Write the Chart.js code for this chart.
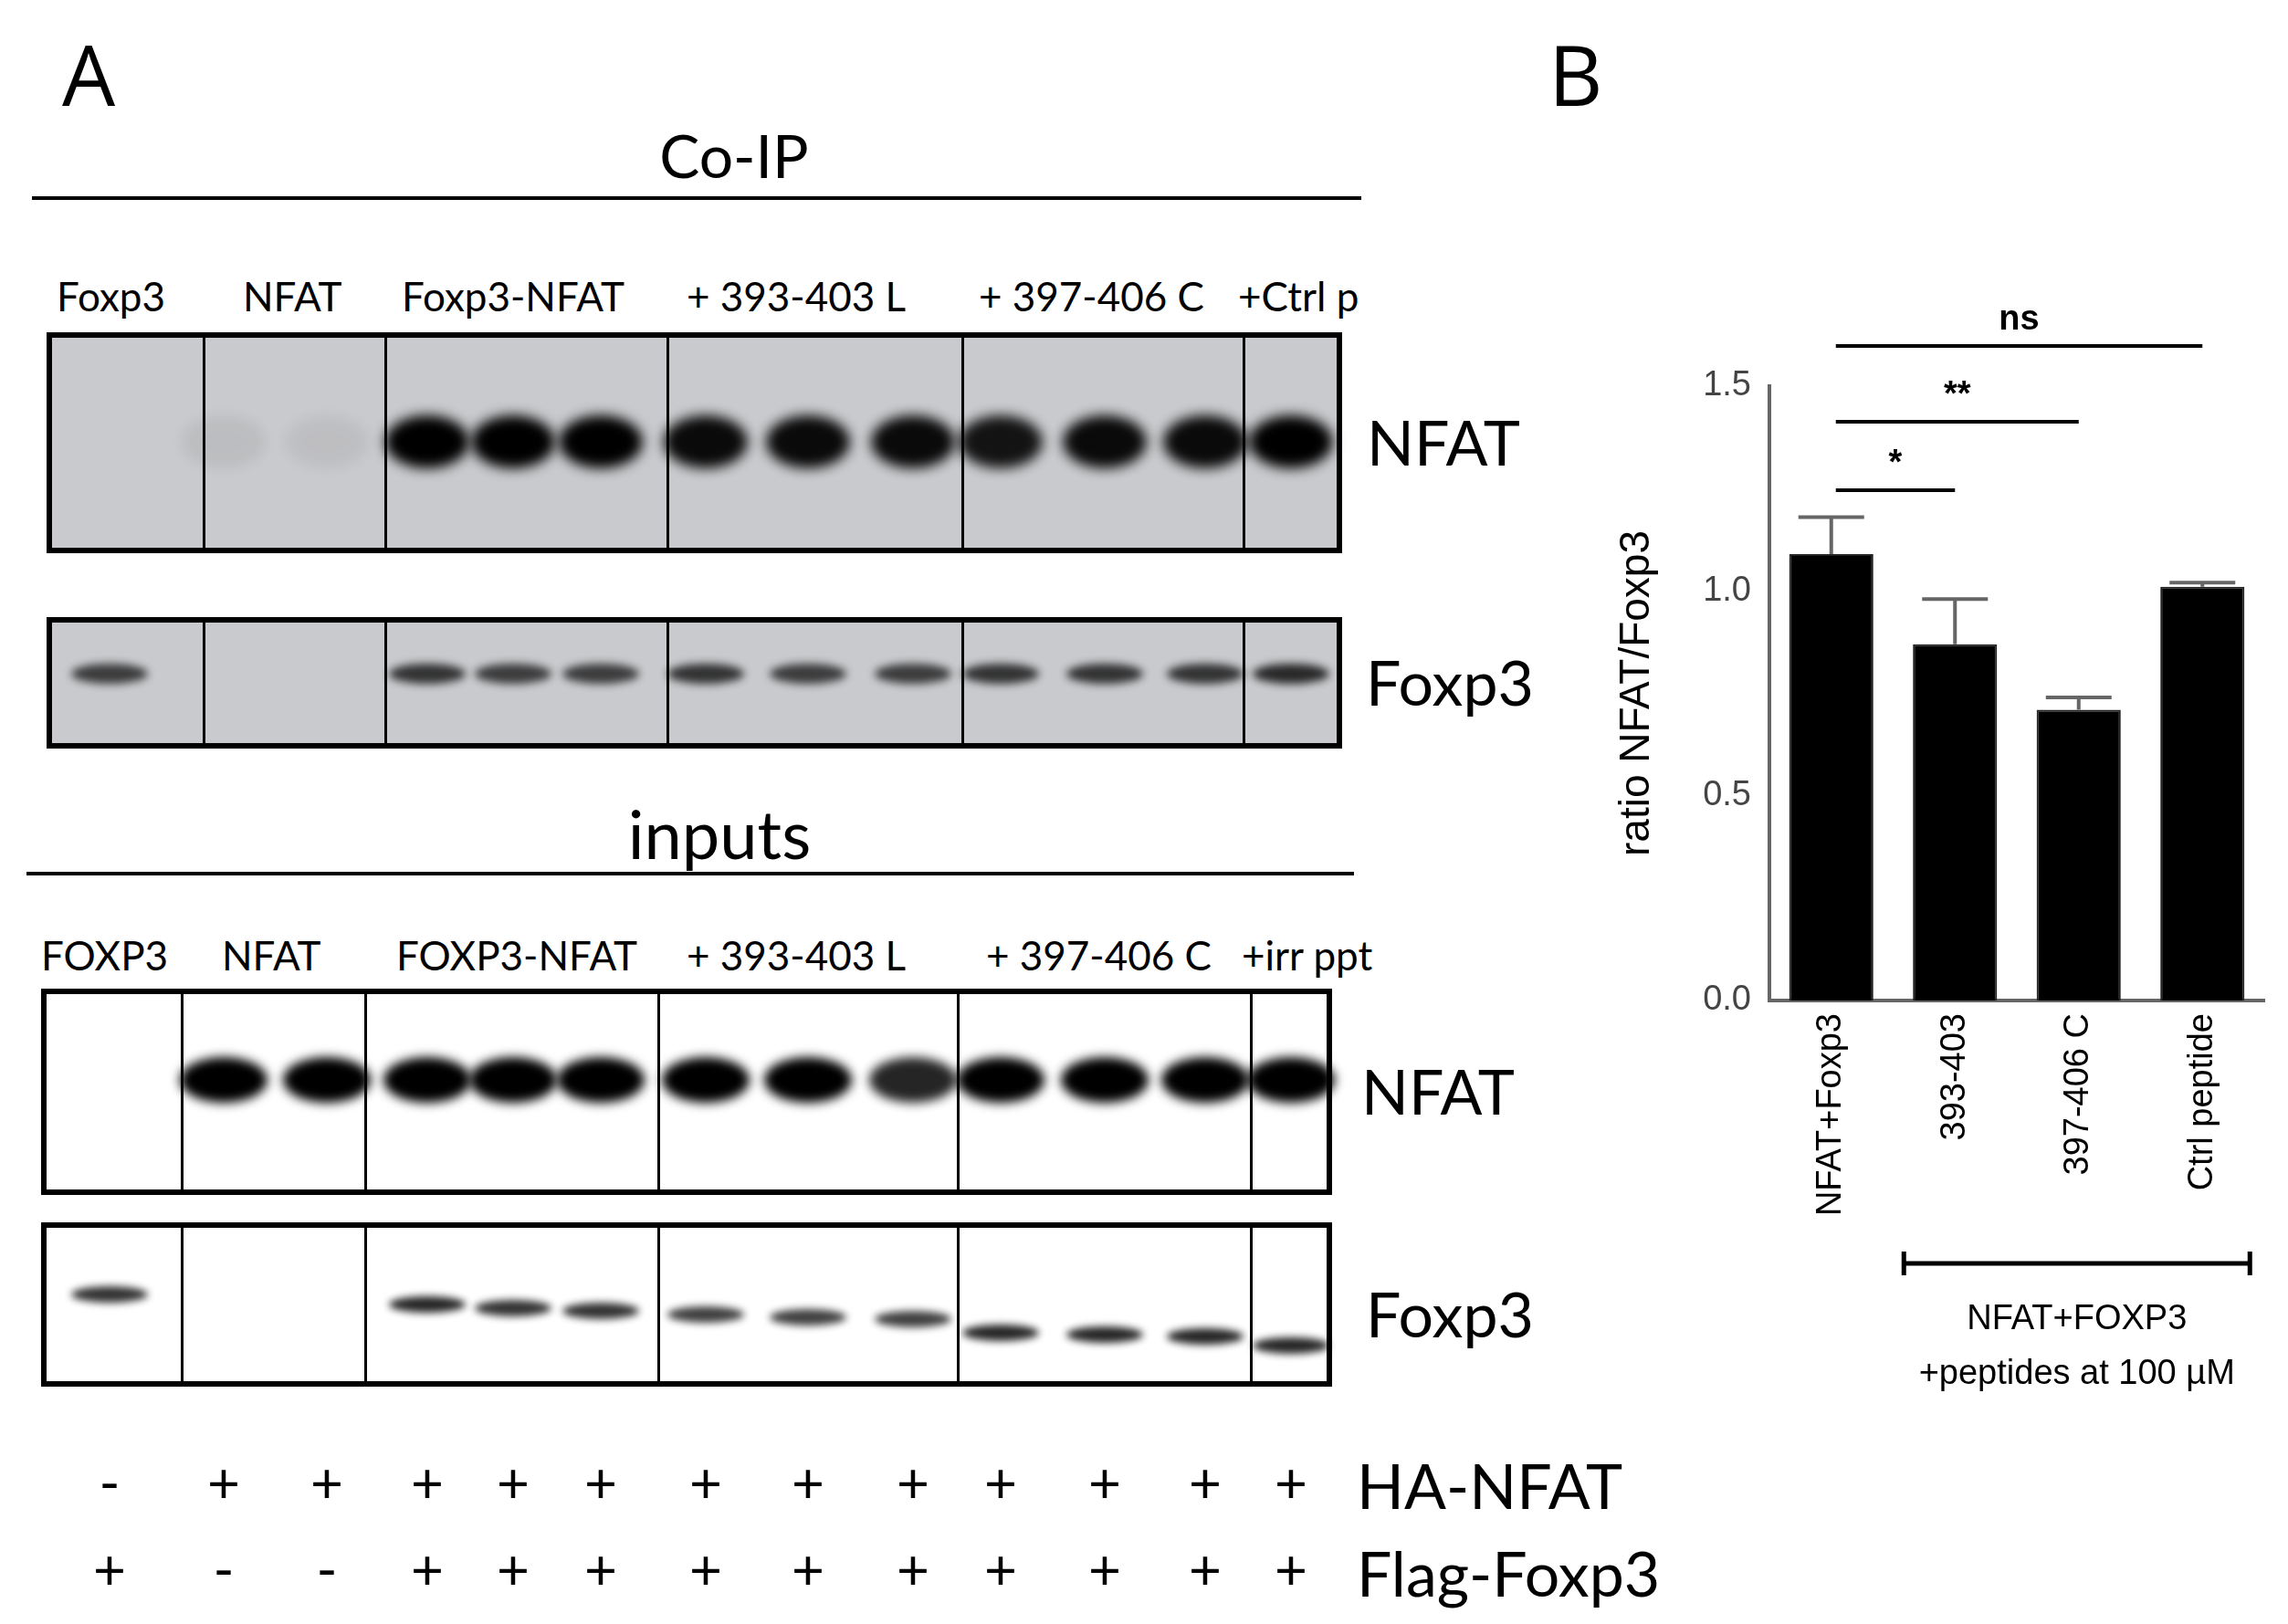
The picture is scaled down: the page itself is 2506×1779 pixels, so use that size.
<!DOCTYPE html>
<html>
<head>
<meta charset="utf-8">
<script src="https://cdn.jsdelivr.net/npm/chart.js@4"></script>
<style>
  body { margin:0; background:#fff; width:2506px; height:1779px; position:relative; overflow:hidden; font-family:Lato, "Open Sans", sans-serif; }
  .abs { position:absolute; }
  .txt { position:absolute; white-space:nowrap; color:#000; }
  .blot { position:absolute; box-sizing:border-box; border:6px solid #000; overflow:hidden; }
  .div { position:absolute; top:0; bottom:0; width:3px; background:#000; }
  .band { position:absolute; border-radius:50%; background:#000; }
  #chartbox { position:absolute; left:1700px; top:300px; width:806px; height:1320px; }
</style>
</head>
<body>

<div class="txt" style="left:68px;top:18px;font-size:92px;font-family:'Open Sans'">A</div>
<div class="txt" style="left:1696px;top:18px;font-size:92px;font-family:'Open Sans'">B</div>

<div id="panelA"></div>
<div id="chartbox"><canvas id="bar-graph-canvas"></canvas></div>

<script>
// ---- panel B data ----
const categories = ["NFAT+Foxp3", "393-403", "397-406 C", "Ctrl peptide"]
const ratio_values = [1.09, 0.87, 0.71, 1.01]
const ratio_errors = [0.09, 0.11, 0.03, 0.01]
const y_ticks = [0.0, 0.5, 1.0, 1.5]
// significance bars: [from index, to index, level, label]
const sig_bars = [[0, 1, 1.246, "*"], [0, 2, 1.413, "**"], [0, 3, 1.598, "ns"]]

// ---- panel A (blots) ----
const lane_x = [120, 245, 358, 468, 562, 658, 773, 885, 1000, 1096, 1210, 1320, 1414]
const plus_nfat = ["-", "+", "+", "+", "+", "+", "+", "+", "+", "+", "+", "+", "+"]
const plus_foxp3 = ["+", "-", "-", "+", "+", "+", "+", "+", "+", "+", "+", "+", "+"]
const coip_nfat = [0, 0.06, 0.05, 1, 1, 1, 0.95, 0.95, 0.95, 0.9, 0.95, 0.95, 1]
const coip_foxp3 = [0.7, 0, 0, 0.75, 0.7, 0.7, 0.75, 0.7, 0.7, 0.75, 0.75, 0.75, 0.8]
const input_nfat = [0, 1, 1, 1, 1, 1, 1, 1, 0.85, 1, 1, 1, 1]
const input_foxp3 = [0.8, 0, 0, 0.85, 0.8, 0.8, 0.75, 0.75, 0.75, 0.85, 0.85, 0.85, 0.85]
const input_foxp3_y = [1418, 0, 0, 1429, 1433, 1436, 1440, 1443, 1445, 1460, 1462, 1464, 1474]

const coip_lanes_labels = [["Foxp3", 62], ["NFAT", 266], ["Foxp3-NFAT", 440], ["+ 393-403 L", 752], ["+ 397-406 C", 1072], ["+Ctrl p", 1356]]
const input_lanes_labels = [["FOXP3", 45], ["NFAT", 243], ["FOXP3-NFAT", 434], ["+ 393-403 L", 752], ["+ 397-406 C", 1080], ["+irr ppt", 1360]]

const panelA = document.getElementById("panelA")

function addEl(cls, style, text){
    const el = document.createElement("div")
    el.className = cls
    el.setAttribute("style", style)
    if (text !== undefined) el.textContent = text
    panelA.appendChild(el)
    return el
}

function addBlot(left, top, width, height, bg, dividers){
    const b = addEl("blot", `left:${left}px;top:${top}px;width:${width}px;height:${height}px;background:${bg}`)
    dividers.forEach(function(x){
        const d = document.createElement("div")
        d.className = "div"
        d.setAttribute("style", `left:${x - left}px`)
        b.appendChild(d)
    })
    return b
}

function addBands(intensities, cy, w, h, blur, ys){
    intensities.forEach(function(v, i){
        if (v <= 0) return
        const y = ys ? ys[i] : cy
        addEl("band", `left:${lane_x[i] - w/2}px;top:${y - h/2}px;width:${w}px;height:${h}px;opacity:${v};filter:blur(${blur}px)`)
    })
}

// Co-IP header
addEl("txt", "left:0;width:1608px;text-align:center;top:130px;font-size:66px", "Co-IP")
addEl("abs", "left:35px;top:215px;width:1456px;height:4px;background:#000")
coip_lanes_labels.forEach(function(l){ addEl("txt", `left:${l[1]}px;top:298px;font-size:44px`, l[0]) })

addBlot(51, 364, 1419, 242, "#c9cacd", [216, 415, 724, 1047, 1355])
addBands(coip_nfat, 484, 92, 58, 7)
addEl("txt", "left:1497px;top:443px;font-size:68px", "NFAT")

addBlot(51, 676, 1419, 144, "#c9cacd", [216, 415, 724, 1047, 1355])
addBands(coip_foxp3, 738, 84, 22, 5)
addEl("txt", "left:1496px;top:706px;font-size:68px", "Foxp3")

// inputs
addEl("txt", "left:0;width:1576px;text-align:center;top:868px;font-size:74px", "inputs")
addEl("abs", "left:29px;top:955px;width:1454px;height:4px;background:#000")
input_lanes_labels.forEach(function(l){ addEl("txt", `left:${l[1]}px;top:1020px;font-size:44px`, l[0]) })

addBlot(45, 1083, 1414, 226, "#fff", [192, 393, 714, 1042, 1363])
addBands(input_nfat, 1183, 96, 50, 6)
addEl("txt", "left:1491px;top:1154px;font-size:68px", "NFAT")

addBlot(45, 1339, 1414, 180, "#fff", [192, 393, 714, 1042, 1363])
addBands(input_foxp3, 0, 84, 18, 4, input_foxp3_y)
addEl("txt", "left:1496px;top:1398px;font-size:68px", "Foxp3")

plus_nfat.forEach(function(s, i){ addEl("txt", `left:${lane_x[i] - 20}px;width:40px;text-align:center;top:1585px;font-size:62px`, s) })
plus_foxp3.forEach(function(s, i){ addEl("txt", `left:${lane_x[i] - 20}px;width:40px;text-align:center;top:1680px;font-size:62px`, s) })
addEl("txt", "left:1486px;top:1586px;font-size:68px", "HA-NFAT")
addEl("txt", "left:1486px;top:1682px;font-size:68px", "Flag-Foxp3")

// ---- panel B chart ----
const annotations = {
    id: "annotations",
    afterDatasetsDraw(chart){
        const ctx = chart.ctx
        const x = chart.scales.x
        const y = chart.scales.y
        ctx.save()
        ctx.fillStyle = "#000"
        // error bars
        ctx.lineWidth = 4
        ctx.strokeStyle = "#666"
        ratio_values.forEach(function(v, i){
            const cx = x.getPixelForValue(i)
            const top = y.getPixelForValue(v + ratio_errors[i])
            ctx.beginPath()
            ctx.moveTo(cx, y.getPixelForValue(v))
            ctx.lineTo(cx, top)
            ctx.moveTo(cx - 36, top)
            ctx.lineTo(cx + 36, top)
            ctx.stroke()
        })
        // significance
        ctx.strokeStyle = "#000"
        ctx.lineWidth = 4
        ctx.font = "bold 38px 'Liberation Sans'"
        ctx.textAlign = "center"
        sig_bars.forEach(function(s){
            const x1 = x.getPixelForValue(s[0]) + 5
            const x2 = x.getPixelForValue(s[1])
            const py = y.getPixelForValue(s[2])
            ctx.beginPath()
            ctx.moveTo(x1, py)
            ctx.lineTo(x2, py)
            ctx.stroke()
            ctx.fillText(s[3], (x1 + x2) / 2, py - 18)
        })
        // group bracket
        const bx1 = x.getPixelForValue(1) - 56
        const bx2 = x.getPixelForValue(3) + 52
        const by = chart.chartArea.bottom + 288
        ctx.lineWidth = 5
        ctx.beginPath()
        ctx.moveTo(bx1, by); ctx.lineTo(bx2, by)
        ctx.moveTo(bx1, by - 13); ctx.lineTo(bx1, by + 13)
        ctx.moveTo(bx2, by - 13); ctx.lineTo(bx2, by + 13)
        ctx.stroke()
        ctx.font = "38px 'Liberation Sans'"
        ctx.fillText("NFAT+FOXP3", (bx1 + bx2) / 2, by + 72)
        ctx.fillText("+peptides at 100 \u00b5M", (bx1 + bx2) / 2, by + 132)
        ctx.restore()
    }
}

new Chart(document.getElementById("bar-graph-canvas"), {
    type: "bar",
    data: {
        labels: categories,
        datasets: [{
            data: ratio_values,
            backgroundColor: "#000",
            borderColor: "#222",
            borderWidth: 2,
            barPercentage: 0.68,
            categoryPercentage: 1
        }]
    },
    options: {
        responsive: true,
        maintainAspectRatio: false,
        animation: false,
        layout: { padding: { top: 123, right: 26, left: 62, bottom: 0 } },
        plugins: { legend: { display: false }, tooltip: { enabled: false } },
        scales: {
            x: {
                grid: { display: false, drawTicks: false },
                border: { color: "#666", width: 4 },
                ticks: { minRotation: 90, maxRotation: 90, padding: 14, color: "#000",
                    font: { family: "Liberation Sans Narrow, Liberation Sans", size: 38 } },
                afterFit(scale){ scale.height = 524 }
            },
            y: {
                min: 0, max: 1.5,
                afterBuildTicks(scale){ scale.ticks = y_ticks.map(function(v){ return { value: v } }) },
                grid: { display: false, drawTicks: true, tickLength: 18, tickColor: "#666", tickWidth: 4 },
                border: { color: "#666", width: 4 },
                ticks: { color: "#444", padding: 2, font: { family: "Liberation Sans", size: 38 },
                    callback: function(v){ return Number(v).toFixed(1) } },
                title: { display: true, text: "ratio NFAT/Foxp3", color: "#000",
                    font: { family: "Liberation Sans Narrow, Liberation Sans", size: 46 }, padding: { bottom: 0 } },
                afterFit(scale){ scale.width = 176 }
            }
        }
    },
    plugins: [annotations]
})
</script>
</body>
</html>
